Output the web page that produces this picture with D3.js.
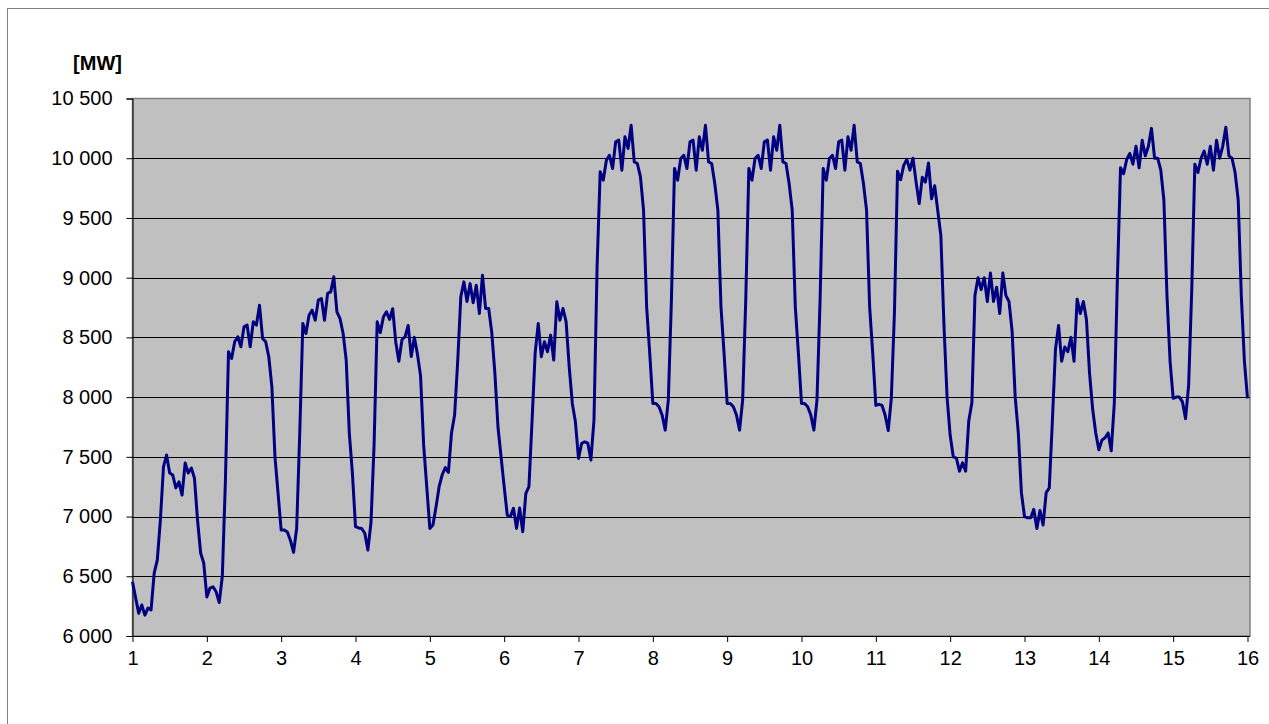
<!DOCTYPE html>
<html><head><meta charset="utf-8">
<script src="https://cdn.jsdelivr.net/npm/d3@7"></script>
<style>body{margin:0;background:#fff;}svg{display:block;font-family:"Liberation Sans",Arial,sans-serif;}</style>
</head><body><svg id="c" width="1269" height="724"></svg>
<script>
// Hourly load [MW], one array per day (hours 0..23)
const day01 = [6454,6320,6190,6260,6175,6234,6218,6527,6636,6970,7416,7515,7364,7347,7240,7290,7180,7448,7364,7406,7322,6970,6695,6611];
const day02 = [6327,6400,6412,6370,6280,6500,7300,8379,8324,8463,8505,8421,8588,8603,8421,8630,8603,8770,8491,8463,8338,8086,7500,7194];
const day03 = [6887,6887,6870,6800,6700,6900,7700,8617,8533,8686,8728,8644,8812,8826,8644,8868,8881,9007,8714,8658,8533,8310,7699,7364];
const day04 = [6915,6905,6900,6860,6720,6950,7600,8630,8540,8670,8714,8650,8740,8460,8300,8480,8505,8600,8340,8500,8360,8180,7600,7250];
const day05 = [6901,6930,7080,7250,7350,7410,7370,7700,7850,8300,8840,8965,8800,8950,8790,8937,8700,9021,8742,8742,8540,8200,7750,7500];
const day06 = [7250,7012,7000,7070,6901,7071,6873,7194,7250,7800,8366,8617,8338,8463,8380,8519,8310,8798,8644,8742,8630,8254,7947,7793];
const day07 = [7487,7612,7626,7615,7473,7808,9090,9886,9816,9983,10025,9914,10137,10151,9900,10179,10082,10276,9969,9956,9844,9565,8756,8366];
const day08 = [7947,7947,7919,7850,7724,7975,8812,9914,9816,9997,10025,9914,10137,10151,9900,10179,10067,10276,9969,9956,9788,9565,8756,8366];
const day09 = [7947,7947,7919,7850,7724,7975,8812,9914,9816,9997,10025,9914,10137,10151,9900,10179,10067,10276,9969,9956,9788,9565,8756,8366];
const day10 = [7947,7947,7919,7850,7724,7975,8812,9914,9816,9997,10025,9914,10137,10151,9900,10179,10067,10276,9969,9956,9788,9565,8756,8366];
const day11 = [7930,7940,7930,7850,7720,7990,8700,9890,9820,9940,9990,9900,10000,9800,9620,9840,9800,9960,9660,9770,9560,9350,8600,8000];
const day12 = [7680,7500,7490,7380,7450,7380,7800,7950,8850,9000,8900,9000,8800,9040,8800,8920,8700,9040,8850,8800,8550,8000,7700,7200];
const day13 = [7000,6990,6990,7060,6900,7050,6930,7200,7240,7800,8400,8600,8300,8420,8380,8500,8300,8820,8700,8800,8650,8200,7900,7700];
const day14 = [7560,7640,7660,7700,7550,7950,9000,9920,9870,9990,10040,9950,10100,9920,10150,10020,10100,10250,10000,10000,9900,9650,8850,8300];
const day15 = [7990,8000,8000,7960,7820,8100,8900,9950,9880,10000,10060,9950,10100,9900,10150,10000,10100,10260,10020,10000,9880,9650,8850,8300];
const lastValue = [7990]; // day 16, hour 0

const yTicks = [6000,6500,7000,7500,8000,8500,9000,9500,10000,10500];
const xTicks = [1,2,3,4,5,6,7,8,9,10,11,12,13,14,15,16];
const unitLabel = "[MW]";

const days = [day01,day02,day03,day04,day05,day06,day07,day08,day09,day10,day11,day12,day13,day14,day15];
const series = [];
days.forEach((d,i)=>d.forEach((v,h)=>series.push({t:1+i+h/24,v})));
series.push({t:16,v:lastValue[0]});

const svg = d3.select("#c");
const L=132.5, R=1247.5, T=98.5, B=636;
const x = d3.scaleLinear().domain([1,16]).range([L,R]);
const y = d3.scaleLinear().domain([6000,10500]).range([B,T]);
const fmt = v => d3.format(",")(v).replace(/,/g," ");
const FS = 20;

// outer frame (right and bottom edges fall outside the picture)
svg.append("rect").attr("x",7.5).attr("y",8.5).attr("width",1270).attr("height",720)
  .attr("fill","#fff").attr("stroke","#808080").attr("stroke-width",1);

// plot area
svg.append("rect").attr("x",L).attr("y",T).attr("width",1250-L).attr("height",B-T)
  .attr("fill","#c0c0c0").attr("stroke","#808080").attr("stroke-width",1.5);

// gridlines
svg.append("g").selectAll("line").data(yTicks.filter(v=>v>6000 && v<10500)).join("line")
  .attr("x1",L).attr("x2",1250).attr("y1",d=>Math.round(y(d))+0.5).attr("y2",d=>Math.round(y(d))+0.5)
  .attr("stroke","#000").attr("stroke-width",1);

// y axis
const yAxis = d3.axisLeft(y).tickValues(yTicks).tickFormat(fmt).tickSize(6).tickPadding(14);
const gy = svg.append("g").attr("transform",`translate(${L},0)`).call(yAxis);
gy.selectAll("text").attr("font-size",FS).attr("fill","#000").attr("font-family","Liberation Sans, Arial, sans-serif");
gy.select(".domain").attr("stroke","#000");

// x axis
const xAxis = d3.axisBottom(x).tickValues(xTicks).tickFormat(d3.format("d")).tickSize(6).tickPadding(9);
const gx = svg.append("g").attr("transform",`translate(0,${B})`).call(xAxis);
gx.selectAll("text").attr("font-size",FS).attr("fill","#000").attr("font-family","Liberation Sans, Arial, sans-serif");
gx.select(".domain").attr("d",`M${L},0.5H1250`).attr("stroke","#000");

// line
svg.append("path").datum(series)
  .attr("fill","none").attr("stroke","#000080").attr("stroke-width",3).attr("stroke-linejoin","round")
  .attr("d",d3.line().x(d=>x(d.t)).y(d=>y(d.v)));

// unit label
svg.append("text").attr("x",97.5).attr("y",70).attr("text-anchor","middle")
  .attr("font-size",FS).attr("font-weight","bold").text(unitLabel);
</script></body></html>
